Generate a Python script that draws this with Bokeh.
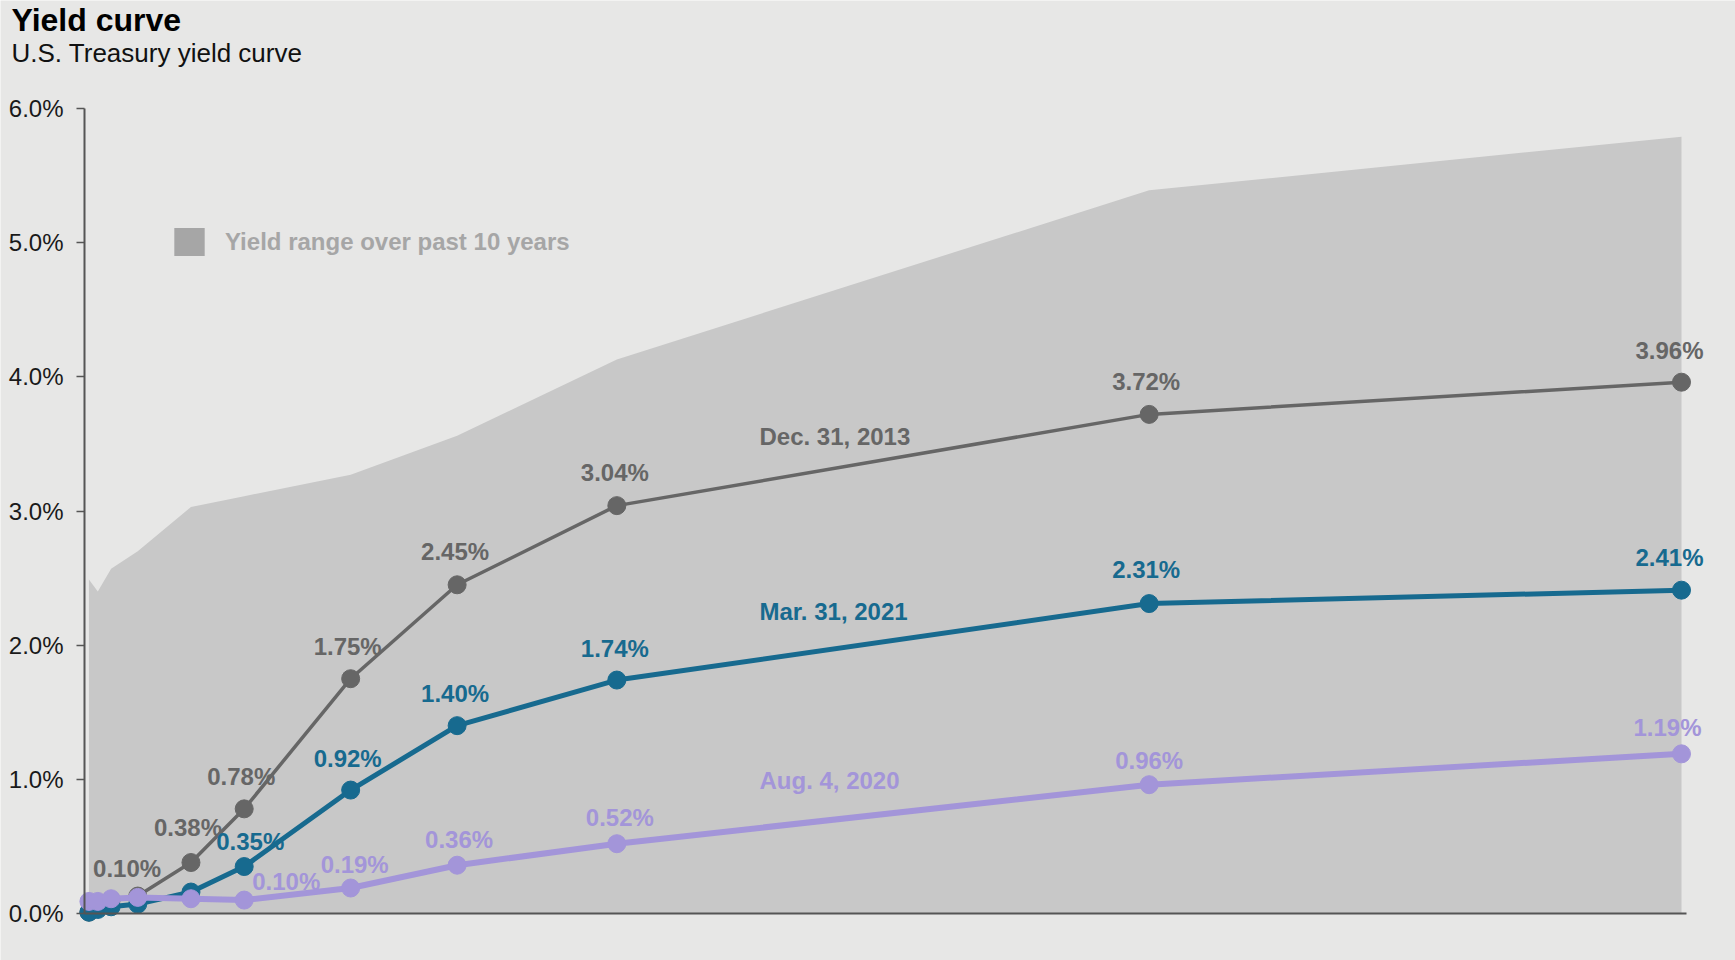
from bokeh.plotting import figure
from bokeh.models import (ColumnDataSource, Range1d, FixedTicker, PrintfTickFormatter,
                          Label, Legend, LegendItem)
from bokeh.core.properties import value
from bokeh.embed import file_html
from bokeh.resources import INLINE

# ---------------- data ----------------
maturity_labels = ["1m", "3m", "6m", "1y", "2y", "3y", "5y", "7y", "10y", "20y", "30y"]
maturity_years = [1/12, 0.25, 0.5, 1, 2, 3, 5, 7, 10, 20, 30]

range_upper = [2.49, 2.40, 2.57, 2.70, 3.03, 3.11, 3.27, 3.56, 4.13, 5.39, 5.79]

dec_2013 = [0.01, 0.07, 0.10, 0.13, 0.38, 0.78, 1.75, 2.45, 3.04, 3.72, 3.96]
mar_2021 = [0.01, 0.03, 0.05, 0.07, 0.16, 0.35, 0.92, 1.40, 1.74, 2.31, 2.41]
aug_2020 = [0.09, 0.09, 0.11, 0.12, 0.11, 0.10, 0.19, 0.36, 0.52, 0.96, 1.19]

y_ticks = [0, 1, 2, 3, 4, 5, 6]

# which points carry a value label, and their pixel nudges (style)
dec_label_idx = [2, 4, 5, 6, 7, 8, 9, 10]
dec_label_dx = [16, -3, -3, -3, -2, -2, -3, -12]
dec_label_dy = [-32, -35, -32, -32, -33, -33, -33, -32]

mar_label_idx = [5, 6, 7, 8, 9, 10]
mar_label_dx = [6, -3, -2, -2, -3, -12]
mar_label_dy = [-25, -32, -32, -32, -34, -33]

aug_label_idx = [5, 6, 7, 8, 9, 10]
aug_label_dx = [42, 4, 2, 3, 0, -14]
aug_label_dy = [-19, -24, -26, -26, -24, -26]

# ---------------- style / layout ----------------
BG = "#e7e7e6"
AREA = "#c8c8c8"
GRAY = "#666666"
BLUE = "#176a8f"
PURPLE = "#a395d9"
FONT = "Liberation Sans"

W, H = 1735, 960
# pixel anchors of the plotting area: x=0 at 84px, x=30 at 1681px; y=0 at 913px, y=6 at 108px
AX_X0, AX_X30 = 84, 1681
AX_Y0, AX_Y6 = 913, 108
XS = (AX_X30 - AX_X0) / 30.0
YS = (AX_Y0 - AX_Y6) / 6.0
X0, X1 = -AX_X0 / XS, (W - AX_X0) / XS
Y0, Y1 = -(H - AX_Y0) / YS, AX_Y0 / YS


def px_x(page_x):
    return (page_x - AX_X0) / XS


def px_y(page_y):
    return (AX_Y0 - page_y) / YS


p = figure(width=W, height=H, output_backend="svg", toolbar_location=None,
           x_range=Range1d(X0, X1), y_range=Range1d(Y0, Y1),
           min_border_left=0, min_border_right=0,
           min_border_top=0, min_border_bottom=0)
p.background_fill_color = BG
p.border_fill_color = BG
p.outline_line_color = None
p.xgrid.visible = False
p.ygrid.visible = False

ya = p.yaxis[0]
ya.fixed_location = 0
ya.ticker = FixedTicker(ticks=y_ticks)
ya.formatter = PrintfTickFormatter(format="%.1f%%")
ya.bounds = (0, 6)
ya.axis_line_color = "#555555"
ya.axis_line_width = 2
ya.major_tick_line_color = "#555555"
ya.major_tick_line_width = 1.5
ya.major_tick_out = 8
ya.major_tick_in = 0
ya.minor_tick_line_color = None
ya.major_label_standoff = 13
ya.major_label_text_font = FONT
ya.major_label_text_font_size = "24px"
ya.major_label_text_color = "#1a1a1a"

xa = p.xaxis[0]
xa.fixed_location = 0
xa.ticker = FixedTicker(ticks=[])
xa.bounds = (0, 30.1)
xa.axis_line_color = "#555555"
xa.axis_line_width = 2
xa.major_tick_line_color = None
xa.minor_tick_line_color = None
xa.major_label_text_font_size = "0px"

# yield range area
p.varea(x=maturity_years, y1=[0] * len(maturity_years), y2=range_upper,
        fill_color=AREA)

series = [
    (dec_2013, GRAY, 3.5, dec_label_idx, dec_label_dx, dec_label_dy),
    (mar_2021, BLUE, 5, mar_label_idx, mar_label_dx, mar_label_dy),
    (aug_2020, PURPLE, 6, aug_label_idx, aug_label_dx, aug_label_dy),
]

for vals, color, lw, idx, dx, dy in series:
    src = ColumnDataSource(dict(x=maturity_years, y=vals))
    p.line("x", "y", source=src, line_color=color, line_width=lw)
    p.scatter("x", "y", source=src, size=18, fill_color=color, line_color=color)
    lab = ColumnDataSource(dict(
        x=[maturity_years[i] for i in idx],
        y=[vals[i] for i in idx],
        t=[f"{vals[i]:.2f}%" for i in idx],
        dx=dx, dy=dy))
    p.text("x", "y", text="t", source=lab, x_offset="dx", y_offset="dy",
           text_align="center", text_baseline="alphabetic",
           text_font=value(FONT), text_font_style="bold",
           text_font_size="24px", text_color=color)

# series names
for name, color, py in [("Dec. 31, 2013", GRAY, 436.3),
                        ("Mar. 31, 2021", BLUE, 611.3),
                        ("Aug. 4, 2020", PURPLE, 779.7)]:
    p.add_layout(Label(x=px_x(759), y=px_y(py), text=name, text_align="left",
                       text_baseline="alphabetic", text_font=FONT,
                       text_font_style="bold", text_font_size="24px",
                       text_color=color))

# titles
p.add_layout(Label(x=px_x(11), y=px_y(19), text="Yield curve", text_align="left",
                   text_baseline="alphabetic", text_font=FONT, text_font_style="bold",
                   text_font_size="32px", text_color="#000000"))
p.add_layout(Label(x=px_x(11), y=px_y(52), text="U.S. Treasury yield curve",
                   text_align="left", text_baseline="alphabetic", text_font=FONT,
                   text_font_size="26px", text_color="#111111"))

# legend
dummy = p.varea(x=[0], y1=[0], y2=[0], fill_color="#a6a6a6")
legend = Legend(items=[LegendItem(label="Yield range over past 10 years", renderers=[dummy])],
                location=(170, H - 259), padding=0, margin=0,
                glyph_width=38, glyph_height=35, label_standoff=17,
                label_text_font=FONT, label_text_font_style="bold",
                label_text_font_size="24px", label_text_color="#a6a6a6",
                background_fill_alpha=0, border_line_alpha=0)
p.add_layout(legend)

open("out.html", "w").write(file_html(p, INLINE))
